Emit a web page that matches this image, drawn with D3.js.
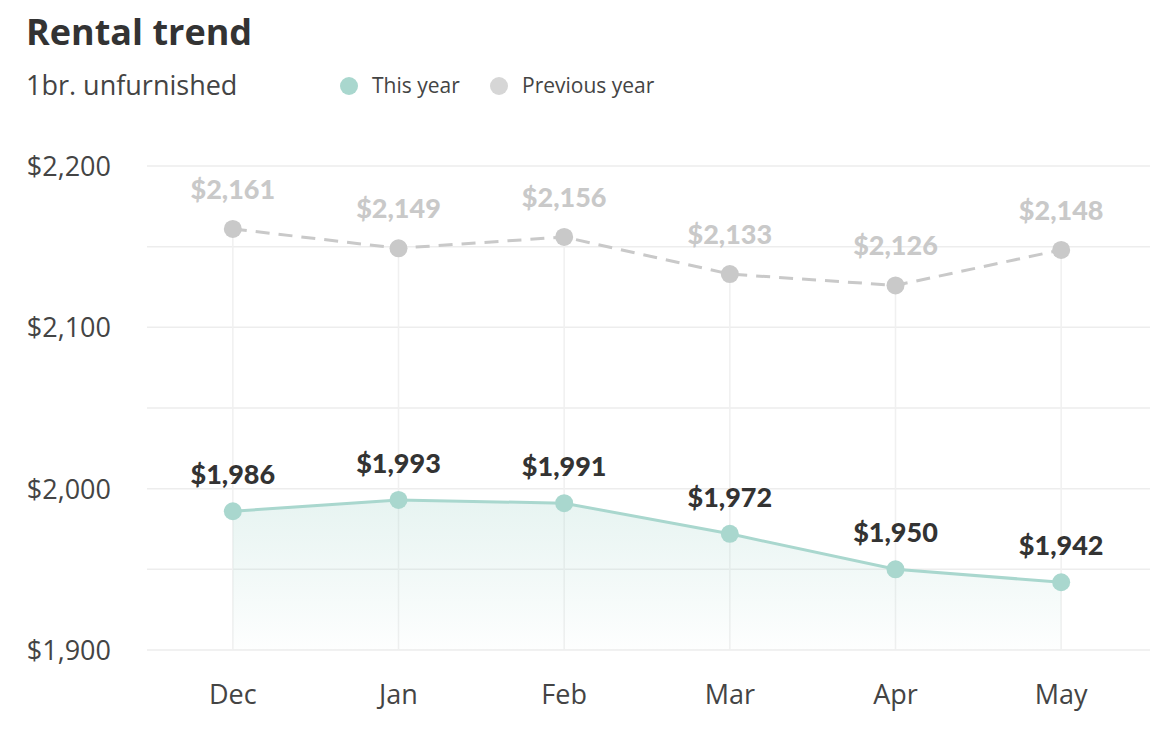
<!DOCTYPE html>
<html>
<head>
<meta charset="utf-8">
<script src="https://cdn.jsdelivr.net/npm/d3@7"></script>
<style>
  body { margin: 0; background: #fff; }
  svg { display: block; }
</style>
</head>
<body>
<div class="container"></div>
<script>
// chart data
const months = ["Dec", "Jan", "Feb", "Mar", "Apr", "May"];
const thisYear = [1986, 1993, 1991, 1972, 1950, 1942];
const previousYear = [2161, 2149, 2156, 2133, 2126, 2148];
const gridTicks = [1900, 1950, 2000, 2050, 2100, 2150, 2200];
const labelTicks = [1900, 2000, 2100, 2200];

const width = 1162;
const height = 742;
const marginLeft = 147;
const marginRight = 12;
const marginTop = 166;
const marginBottom = 92;

const teal = "#a9d7ce";
const grey = "#c9c9c9";
const fmt = d3.format("$,");

const x = d3.scalePoint()
  .domain(months)
  .range([marginLeft + 3, width - marginRight - 6])
  .padding(0.5);

const y = d3.scaleLinear()
  .domain([1900, 2200])
  .range([height - marginBottom, marginTop]);

const svg = d3.select(".container")
  .append("svg")
  .attr("width", width)
  .attr("height", height)
  .style("font-family", "'Open Sans', sans-serif");

// title + subtitle
svg.append("text")
  .attr("x", 26).attr("y", 45)
  .attr("font-size", 36).attr("font-weight", 700)
  .attr("fill", "#333")
  .text("Rental trend");

svg.append("text")
  .attr("x", 26).attr("y", 95)
  .attr("font-size", 27)
  .attr("fill", "#444")
  .text("1br. unfurnished");

// legend
const legend = [
  { name: "This year", color: teal, x: 349 },
  { name: "Previous year", color: "#d6d6d6", x: 499 }
];
const lg = svg.selectAll(".legend")
  .data(legend)
  .enter()
  .append("g")
  .attr("class", "legend")
  .attr("transform", (d) => `translate(${d.x},86)`);
lg.append("circle").attr("r", 9).attr("fill", (d) => d.color);
lg.append("text")
  .attr("x", 23).attr("y", 7)
  .attr("font-size", 21)
  .attr("fill", "#444")
  .text((d) => d.name);

// horizontal grid
svg.append("g")
  .selectAll("line")
  .data(gridTicks)
  .enter()
  .append("line")
  .attr("x1", marginLeft)
  .attr("x2", width - marginRight)
  .attr("y1", (d) => y(d))
  .attr("y2", (d) => y(d))
  .attr("stroke", "#ededed")
  .attr("stroke-width", 1.5);

// y labels
svg.append("g")
  .selectAll("text")
  .data(labelTicks)
  .enter()
  .append("text")
  .attr("x", 111)
  .attr("y", (d) => y(d) + 10)
  .attr("text-anchor", "end")
  .attr("font-size", 27)
  .attr("fill", "#444")
  .text((d) => fmt(d));

// vertical grid from previous-year point down to baseline
svg.append("g")
  .selectAll("line")
  .data(months)
  .enter()
  .append("line")
  .attr("x1", (d) => x(d))
  .attr("x2", (d) => x(d))
  .attr("y1", (d, i) => y(previousYear[i]))
  .attr("y2", y(1900))
  .attr("stroke", "#f0f0f0")
  .attr("stroke-width", 1.5);

// x labels
svg.append("g")
  .selectAll("text")
  .data(months)
  .enter()
  .append("text")
  .attr("x", (d) => x(d))
  .attr("y", 704)
  .attr("text-anchor", "middle")
  .attr("font-size", 27)
  .attr("fill", "#444")
  .text((d) => d);

// area gradient
const defs = svg.append("defs");
const grad = defs.append("linearGradient")
  .attr("id", "areaFill")
  .attr("x1", 0).attr("y1", 0).attr("x2", 0).attr("y2", 1);
grad.append("stop").attr("offset", "0%").attr("stop-color", teal).attr("stop-opacity", 0.28);
grad.append("stop").attr("offset", "100%").attr("stop-color", teal).attr("stop-opacity", 0.02);

const cur = months.map((m, i) => ({ m, v: thisYear[i] }));
const prev = months.map((m, i) => ({ m, v: previousYear[i] }));

svg.append("path")
  .datum(cur)
  .attr("fill", "url(#areaFill)")
  .attr("d", d3.area().x((d) => x(d.m)).y0(y(1900)).y1((d) => y(d.v)));

// previous year dashed line
svg.append("path")
  .datum(prev)
  .attr("fill", "none")
  .attr("stroke", grey)
  .attr("stroke-width", 3)
  .attr("stroke-dasharray", "14,9")
  .attr("d", d3.line().x((d) => x(d.m)).y((d) => y(d.v)));

// this year line
svg.append("path")
  .datum(cur)
  .attr("fill", "none")
  .attr("stroke", teal)
  .attr("stroke-width", 3)
  .attr("d", d3.line().x((d) => x(d.m)).y((d) => y(d.v)));

// points
svg.append("g")
  .selectAll("circle")
  .data(prev)
  .enter()
  .append("circle")
  .attr("cx", (d) => x(d.m))
  .attr("cy", (d) => y(d.v))
  .attr("r", 9)
  .attr("fill", grey);

svg.append("g")
  .selectAll("circle")
  .data(cur)
  .enter()
  .append("circle")
  .attr("cx", (d) => x(d.m))
  .attr("cy", (d) => y(d.v))
  .attr("r", 9)
  .attr("fill", teal);

// value labels
svg.append("g")
  .selectAll("text")
  .data(prev)
  .enter()
  .append("text")
  .attr("x", (d) => x(d.m))
  .attr("y", (d) => y(d.v) - 30)
  .attr("text-anchor", "middle")
  .attr("font-family", "Lato, sans-serif")
  .attr("font-weight", 900)
  .attr("font-size", 27)
  .attr("fill", grey)
  .text((d) => fmt(d.v));

svg.append("g")
  .selectAll("text")
  .data(cur)
  .enter()
  .append("text")
  .attr("x", (d) => x(d.m))
  .attr("y", (d) => y(d.v) - 27)
  .attr("text-anchor", "middle")
  .attr("font-family", "Lato, sans-serif")
  .attr("font-weight", 900)
  .attr("font-size", 27)
  .attr("fill", "#333")
  .text((d) => fmt(d.v));
</script>
</body>
</html>
